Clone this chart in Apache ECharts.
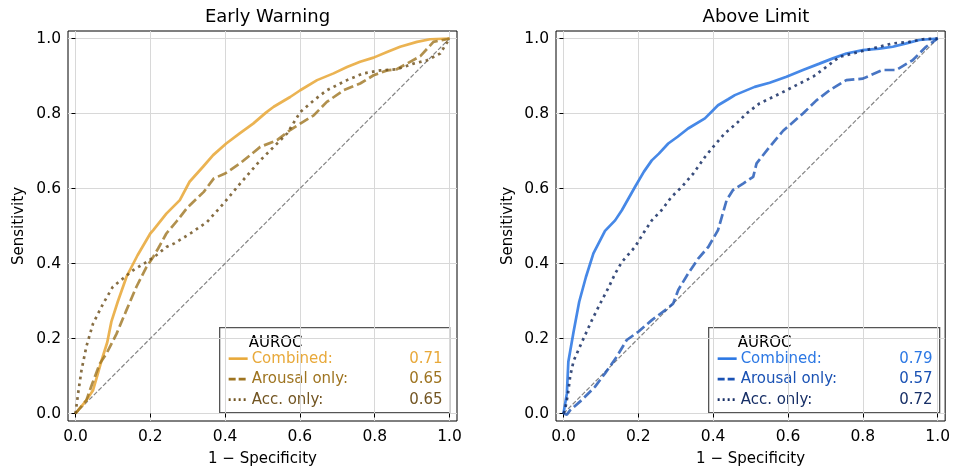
<!DOCTYPE html>
<html>
<head>
<meta charset="utf-8">
<script src="https://cdn.jsdelivr.net/npm/echarts@6/dist/echarts.min.js"></script>
<style>html,body{margin:0;padding:0;background:#fff;}#c{width:953px;height:472px;}</style>
</head>
<body>
<div id="c"></div>
<script>
// ---- data ----
const panelTitles = ['Early Warning', 'Above Limit'];
const seriesNames = ['Combined:', 'Arousal only:', 'Acc. only:'];
const ewAuroc = ['0.71', '0.65', '0.65'];
const alAuroc = ['0.79', '0.57', '0.72'];
const tickValues = [0, 0.2, 0.4, 0.6, 0.8, 1.0];
const chanceLine = [[0, 0], [1, 1]];

const ewCombined = [[0,0],[0.029,0.035],[0.047,0.062],[0.06,0.107],[0.07,0.142],[0.085,0.19],[0.096,0.245],[0.113,0.298],[0.137,0.366],[0.166,0.422],[0.2,0.48],[0.208,0.489],[0.243,0.533],[0.279,0.569],[0.305,0.618],[0.341,0.658],[0.368,0.689],[0.403,0.72],[0.439,0.747],[0.475,0.773],[0.51,0.803],[0.53,0.818],[0.574,0.844],[0.601,0.862],[0.646,0.889],[0.69,0.907],[0.726,0.924],[0.761,0.938],[0.797,0.949],[0.833,0.964],[0.868,0.978],[0.913,0.991],[0.948,0.998],[1,1]];
const ewArousal = [[0,0],[0.029,0.035],[0.045,0.08],[0.065,0.133],[0.083,0.16],[0.11,0.213],[0.136,0.275],[0.163,0.338],[0.19,0.391],[0.208,0.418],[0.221,0.44],[0.243,0.48],[0.27,0.512],[0.3,0.55],[0.343,0.591],[0.37,0.627],[0.4,0.64],[0.44,0.667],[0.494,0.711],[0.539,0.729],[0.574,0.756],[0.601,0.773],[0.637,0.795],[0.672,0.831],[0.717,0.862],[0.761,0.88],[0.797,0.902],[0.833,0.915],[0.859,0.918],[0.886,0.933],[0.922,0.953],[0.957,0.991],[0.993,0.998],[1,1]];
const ewAcc = [[0,0],[0.007,0.053],[0.016,0.115],[0.029,0.178],[0.047,0.24],[0.074,0.293],[0.1,0.338],[0.127,0.36],[0.154,0.382],[0.19,0.404],[0.216,0.422],[0.243,0.444],[0.263,0.453],[0.307,0.48],[0.352,0.511],[0.396,0.56],[0.44,0.613],[0.494,0.675],[0.53,0.711],[0.566,0.747],[0.601,0.804],[0.637,0.835],[0.672,0.862],[0.726,0.889],[0.77,0.907],[0.815,0.915],[0.859,0.918],[0.904,0.933],[0.94,0.942],[0.975,0.96],[1,1]];

const alCombined = [[0,0],[0.003,0.004],[0.009,0.053],[0.013,0.138],[0.027,0.218],[0.042,0.298],[0.06,0.364],[0.08,0.427],[0.111,0.487],[0.138,0.515],[0.156,0.542],[0.191,0.604],[0.215,0.645],[0.236,0.675],[0.255,0.693],[0.28,0.72],[0.305,0.738],[0.333,0.76],[0.378,0.787],[0.413,0.822],[0.44,0.838],[0.458,0.849],[0.511,0.871],[0.551,0.882],[0.596,0.898],[0.64,0.916],[0.684,0.933],[0.72,0.947],[0.756,0.96],[0.8,0.969],[0.844,0.973],[0.88,0.978],[0.916,0.987],[0.951,0.996],[1,1]];
const alArousal = [[0,0],[0.009,-0.003],[0.018,0.009],[0.049,0.036],[0.084,0.071],[0.111,0.107],[0.142,0.151],[0.169,0.196],[0.2,0.218],[0.236,0.249],[0.271,0.275],[0.293,0.293],[0.307,0.33],[0.333,0.373],[0.36,0.413],[0.387,0.444],[0.413,0.489],[0.436,0.569],[0.453,0.596],[0.48,0.613],[0.507,0.631],[0.516,0.667],[0.551,0.711],[0.587,0.754],[0.64,0.8],[0.676,0.835],[0.711,0.862],[0.756,0.889],[0.8,0.893],[0.853,0.916],[0.889,0.916],[0.933,0.942],[0.969,0.978],[1,1]];
const alAcc = [[0,0],[0.004,0.009],[0.012,0.053],[0.018,0.1],[0.027,0.14],[0.049,0.19],[0.076,0.249],[0.098,0.293],[0.12,0.335],[0.138,0.373],[0.156,0.404],[0.191,0.444],[0.213,0.48],[0.236,0.515],[0.262,0.542],[0.289,0.578],[0.316,0.604],[0.347,0.64],[0.378,0.684],[0.4,0.711],[0.431,0.747],[0.462,0.773],[0.489,0.8],[0.524,0.827],[0.56,0.844],[0.596,0.862],[0.631,0.88],[0.667,0.898],[0.702,0.924],[0.738,0.951],[0.773,0.96],[0.809,0.969],[0.844,0.978],[0.88,0.987],[0.924,0.991],[0.96,0.998],[1,1]];

// ---- styles ----
const FONT = 'DejaVu Sans';
const ewColors = ['#E8A93A', '#9E7420', '#725522'];
const alColors = ['#2C78E4', '#1A52B4', '#172F66'];
const dashTypes = ['solid', [10, 4], [2.7, 4.2]];
const lineOpacity = [0.88, 0.8, 0.85];

const grids = [
  { left: 68, top: 31, width: 389, height: 390 },
  { left: 556, top: 31, width: 390, height: 390 }
];

function xAxisCfg(i) {
  return {
    type: 'value', gridIndex: i, min: -0.02, max: 1.02,
    name: '1 \u2212 Specificity', nameLocation: 'middle', nameGap: 31,
    nameTextStyle: { fontFamily: FONT, fontSize: 15, color: '#000' },
    axisLine: { show: false },
    axisTick: { show: true, inside: false, length: 4, customValues: tickValues, lineStyle: { color: '#000' } },
    axisLabel: { customValues: tickValues, margin: 8, fontFamily: FONT, fontSize: 15.5, color: '#000',
      formatter: v => v.toFixed(1) },
    splitLine: { show: true, lineStyle: { color: '#d8d8d8', width: 1 } }
  };
}
function yAxisCfg(i) {
  return {
    type: 'value', gridIndex: i, min: -0.02, max: 1.02,
    name: 'Sensitivity', nameLocation: 'middle', nameGap: i === 0 ? 41 : 40, nameRotate: 90,
    nameTextStyle: { fontFamily: FONT, fontSize: 15, color: '#000' },
    axisLine: { show: false },
    axisTick: { show: true, inside: false, length: 4, customValues: tickValues, lineStyle: { color: '#000' } },
    axisLabel: { customValues: tickValues, margin: 7, fontFamily: FONT, fontSize: 15.5, color: '#000',
      formatter: v => v.toFixed(1) },
    splitLine: { show: true, lineStyle: { color: '#d8d8d8', width: 1 } }
  };
}

const panels = [
  { data: [ewCombined, ewArousal, ewAcc], colors: ewColors, auroc: ewAuroc },
  { data: [alCombined, alArousal, alAcc], colors: alColors, auroc: alAuroc }
];

const series = [];
panels.forEach((p, i) => {
  series.push({
    type: 'line', xAxisIndex: i, yAxisIndex: i, data: chanceLine, showSymbol: false, silent: true,
    lineStyle: { color: '#858585', width: 1.2, type: [4.5, 2] }, z: 1
  });
  p.data.forEach((d, k) => {
    series.push({
      type: 'line', name: seriesNames[k], xAxisIndex: i, yAxisIndex: i, data: d,
      showSymbol: false, silent: true, smooth: false,
      lineStyle: { color: p.colors[k], width: 2.7, type: dashTypes[k], opacity: lineOpacity[k], cap: 'butt' },
      z: 2 + k
    });
  });
});

// legend boxes built with graphic elements
const legendBoxes = [
  { x: 219, y: 327, w: 230, h: 85 },
  { x: 708, y: 327, w: 231, h: 85 }
];
const graphic = [];
panels.forEach((p, i) => {
  const b = legendBoxes[i];
  const children = [
    { type: 'rect', shape: { x: 0, y: 0, width: b.w, height: b.h },
      style: { fill: 'rgba(255,255,255,0.9)', stroke: '#555', lineWidth: 1.3 } },
    { type: 'text', x: 29, y: 15, style: { text: 'AUROC', fontFamily: FONT, fontSize: 15, fill: '#000', verticalAlign: 'middle' } }
  ];
  [0, 1, 2].forEach(k => {
    const cy = 31 + k * 20.5;
    children.push({ type: 'line', shape: { x1: 9, y1: cy, x2: 28, y2: cy },
      style: { stroke: p.colors[k], lineWidth: 2.6, lineDash: k === 0 ? null : (k === 1 ? [7, 3] : [2, 3]) } });
    children.push({ type: 'text', x: 32, y: cy, style: { text: seriesNames[k], fontFamily: FONT, fontSize: 15,
      fill: p.colors[k], verticalAlign: 'middle' } });
    children.push({ type: 'text', x: b.w - 7, y: cy, style: { text: p.auroc[k], fontFamily: FONT, fontSize: 15,
      fill: p.colors[k], verticalAlign: 'middle', align: 'right' } });
  });
  graphic.push({ type: 'group', left: b.x, top: b.y, z: 100, children: children });
});

const option = {
  animation: false,
  backgroundColor: '#fff',
  title: panelTitles.map((t, i) => ({
    text: t, left: grids[i].left + grids[i].width / 2, top: 3, textAlign: 'center',
    textStyle: { fontFamily: FONT, fontSize: 18, fontWeight: 'normal', color: '#000' }
  })),
  grid: grids.map(g => Object.assign({ show: true, borderColor: '#000', borderWidth: 1, backgroundColor: 'transparent' }, g)),
  xAxis: [xAxisCfg(0), xAxisCfg(1)],
  yAxis: [yAxisCfg(0), yAxisCfg(1)],
  series: series,
  graphic: graphic
};

const chart = echarts.init(document.getElementById('c'), null, { renderer: 'canvas' });
chart.setOption(option);
</script>
</body>
</html>
